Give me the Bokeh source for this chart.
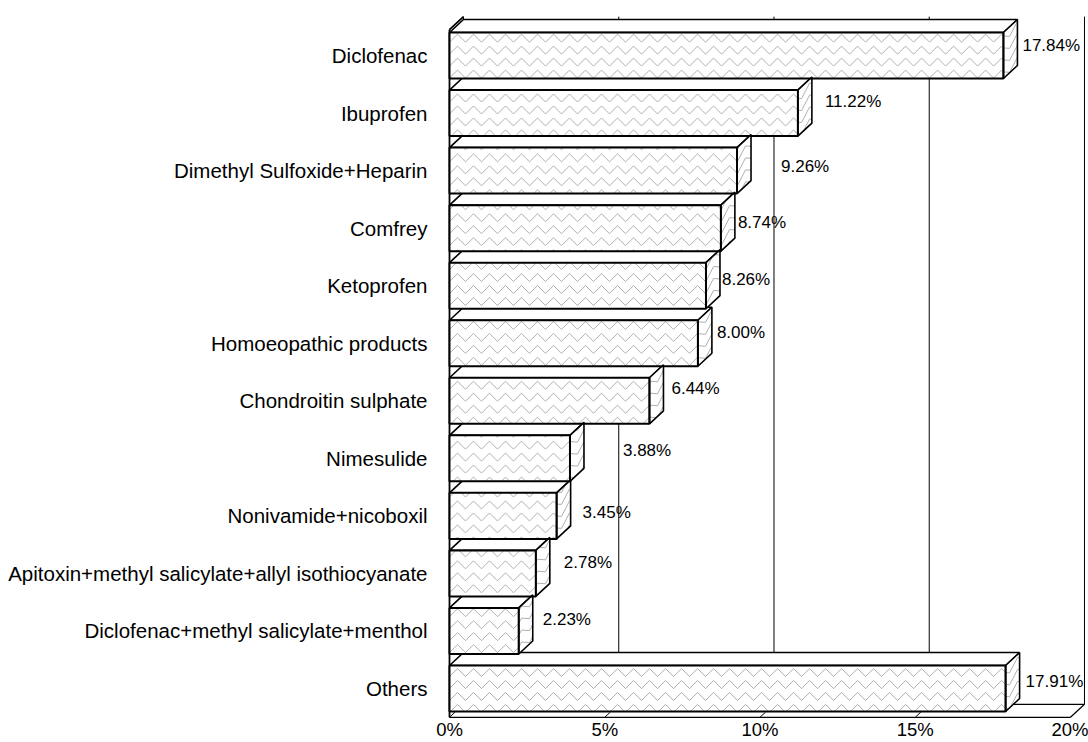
from bokeh.plotting import figure
from bokeh.models import ColumnDataSource, FixedTicker, Range1d, PrintfTickFormatter
from bokeh.core.properties import value
from bokeh.embed import file_html
from bokeh.resources import INLINE
import math

# ---------------- data ----------------
categories = [
    "Diclofenac",
    "Ibuprofen",
    "Dimethyl Sulfoxide+Heparin",
    "Comfrey",
    "Ketoprofen",
    "Homoeopathic products",
    "Chondroitin sulphate",
    "Nimesulide",
    "Nonivamide+nicoboxil",
    "Apitoxin+methyl salicylate+allyl isothiocyanate",
    "Diclofenac+methyl salicylate+menthol",
    "Others",
]
shares = [17.84, 11.22, 9.26, 8.74, 8.26, 8.00, 6.44, 3.88, 3.45, 2.78, 2.23, 17.91]
x_ticks = [0, 5, 10, 15, 20]

# ---------------- styling / placement (not data) ----------------
FONT = "Liberation Sans"
DX = 0.451        # 3-D depth, x (percent units)
DY = 0.226        # 3-D depth, y (category units)
HALF = 0.4        # half bar thickness
WALL_TOP = 11.45
FLOOR = -0.5
# zig-zag fill pattern size, in axis units
HP = 0.2577       # half period along x (~8 px)
AMP = 0.139       # zig-zag height along y (~8 px)
ROW = 0.208       # spacing between zig-zag rows (~12 px)
HATCH_COLOR = "#b0b0b0"
# pixel nudges of the value labels (as placed in the original)
label_dx = [5, 13, 30, 3, 2, 5, 8, 39, 12, 14, 10, 6]
label_dy = [-10, -11.5, -4, -5.6, -6, -10.7, -12, -8, -3.5, -11, -11.5, -7]

n = len(categories)
ypos = [n - 1 - i for i in range(n)]
value_text = ["%.2f%%" % v for v in shares]

p = figure(
    width=1088, height=742,
    x_range=Range1d(-0.0966, 20.58),
    y_range=Range1d(-0.521, 11.956),
    output_backend="svg", toolbar_location=None,
    min_border_left=446, min_border_right=0, min_border_top=0, min_border_bottom=23,
)
p.outline_line_color = None
p.xgrid.visible = False
p.ygrid.visible = False
p.background_fill_color = "white"

# ---------------- axes ----------------
p.yaxis.ticker = FixedTicker(ticks=ypos)
p.yaxis.major_label_overrides = {y: c for y, c in zip(ypos, categories)}
p.yaxis.axis_line_color = None
p.yaxis.major_tick_line_color = None
p.yaxis.minor_tick_line_color = None
p.yaxis.major_tick_out = 0
p.yaxis.major_tick_in = 0
p.yaxis.major_label_standoff = 19
p.yaxis.major_label_text_font = FONT
p.yaxis.major_label_text_font_size = "20.5px"
p.yaxis.major_label_text_color = "black"

p.xaxis.ticker = FixedTicker(ticks=x_ticks)
p.xaxis.formatter = PrintfTickFormatter(format="%d%%")
p.xaxis.axis_line_color = None
p.xaxis.major_tick_line_color = None
p.xaxis.minor_tick_line_color = None
p.xaxis.major_tick_out = 0
p.xaxis.major_tick_in = 0
p.xaxis.major_label_standoff = 0
p.xaxis.major_label_text_font = FONT
p.xaxis.major_label_text_font_size = "18.5px"
p.xaxis.major_label_text_color = "black"

# ---------------- back wall grid lines ----------------
p.segment(x0=[t + DX for t in x_ticks], y0=[FLOOR + DY] * len(x_ticks),
          x1=[t + DX for t in x_ticks], y1=[WALL_TOP + DY] * len(x_ticks),
          line_color="black", line_width=1)

# ---------------- floor ----------------
xmax = x_ticks[-1]
p.segment(x0=[DX, 0, xmax], y0=[FLOOR + DY, FLOOR, FLOOR],
          x1=[xmax + DX, xmax, xmax + DX], y1=[FLOOR + DY, FLOOR, FLOOR + DY],
          line_color="black", line_width=1.2)
p.segment(x0=x_ticks, y0=[FLOOR] * len(x_ticks),
          x1=[t + 0.4 * DX for t in x_ticks], y1=[FLOOR + 0.4 * DY] * len(x_ticks),
          line_color="black", line_width=1)

# ---------------- left wall ----------------
p.segment(x0=[0, 0], y0=[FLOOR, WALL_TOP], x1=[0, DX], y1=[WALL_TOP, WALL_TOP + DY],
          line_color="black", line_width=1.8)


# ---------------- zig-zag fill helper ----------------
def clip_seg(x0, y0, x1, y1, xa, xb, ya, yb):
    """Liang-Barsky clipping of a segment to a rectangle."""
    dx, dy = x1 - x0, y1 - y0
    t0, t1 = 0.0, 1.0
    for pp, q in ((-dx, x0 - xa), (dx, xb - x0), (-dy, y0 - ya), (dy, yb - y0)):
        if pp == 0:
            if q < 0:
                return None
        else:
            r = q / pp
            if pp < 0:
                if r > t1:
                    return None
                t0 = max(t0, r)
            else:
                if r < t0:
                    return None
                t1 = min(t1, r)
    if t1 - t0 < 1e-9:
        return None
    return (x0 + t0 * dx, y0 + t0 * dy, x0 + t1 * dx, y0 + t1 * dy)


def zigzag(xa, xb, ya, yb):
    segs = []
    for k in range(math.floor(ya / ROW) - 2, math.ceil(yb / ROW) + 1):
        base = k * ROW
        for j in range(math.floor(xa / HP) - 1, math.ceil(xb / HP) + 1):
            xs0, xs1 = j * HP, (j + 1) * HP
            ys0 = base + (j % 2) * AMP
            ys1 = base + ((j + 1) % 2) * AMP
            c = clip_seg(xs0, ys0, xs1, ys1, xa, xb, ya, yb)
            if c:
                segs.append(c)
    return segs


# ---------------- bars (3-D) ----------------
order = list(range(n))[::-1]   # bottom to top
top_xs, top_ys, side_xs, side_ys = [], [], [], []
hx0, hy0, hx1, hy1 = [], [], [], []
for i in order:
    v, y = shares[i], ypos[i]
    top_xs.append([0, DX, v + DX, v])
    top_ys.append([y + HALF, y + HALF + DY, y + HALF + DY, y + HALF])
    side_xs.append([v, v + DX, v + DX, v])
    side_ys.append([y - HALF, y - HALF + DY, y + HALF + DY, y + HALF])
    # pattern on the front face
    for a, b, c, d in zigzag(0, v, y - HALF, y + HALF):
        hx0.append(a); hy0.append(b); hx1.append(c); hy1.append(d)
    # pattern on the side face (sheared with the depth)
    for a, b, c, d in zigzag(v, v + DX, y - HALF, y + HALF):
        hx0.append(a); hy0.append(b + (a - v) / DX * DY)
        hx1.append(c); hy1.append(d + (c - v) / DX * DY)

p.patches(top_xs, top_ys, fill_color="white", line_color="black", line_width=1.6)
p.patches(side_xs, side_ys, fill_color="white", line_color=None)
p.hbar(y=ypos, left=0, right=shares, height=2 * HALF, fill_color="white", line_color=None)
p.segment(x0=hx0, y0=hy0, x1=hx1, y1=hy1, line_color=HATCH_COLOR, line_width=1)
p.patches(side_xs, side_ys, fill_color=None, line_color="black", line_width=1.6)
p.hbar(y=ypos, left=0, right=shares, height=2 * HALF, fill_color=None,
       line_color="black", line_width=2)

# ---------------- value labels ----------------
src = ColumnDataSource(dict(
    x=[v + DX for v in shares], y=ypos, t=value_text, dx=label_dx, dy=label_dy))
p.text(x="x", y="y", text="t", x_offset="dx", y_offset="dy", source=src,
       text_align="left", text_baseline="middle", text_color="black",
       text_font=value(FONT), text_font_size="17px")

open("out.html", "w").write(file_html(p, INLINE))
